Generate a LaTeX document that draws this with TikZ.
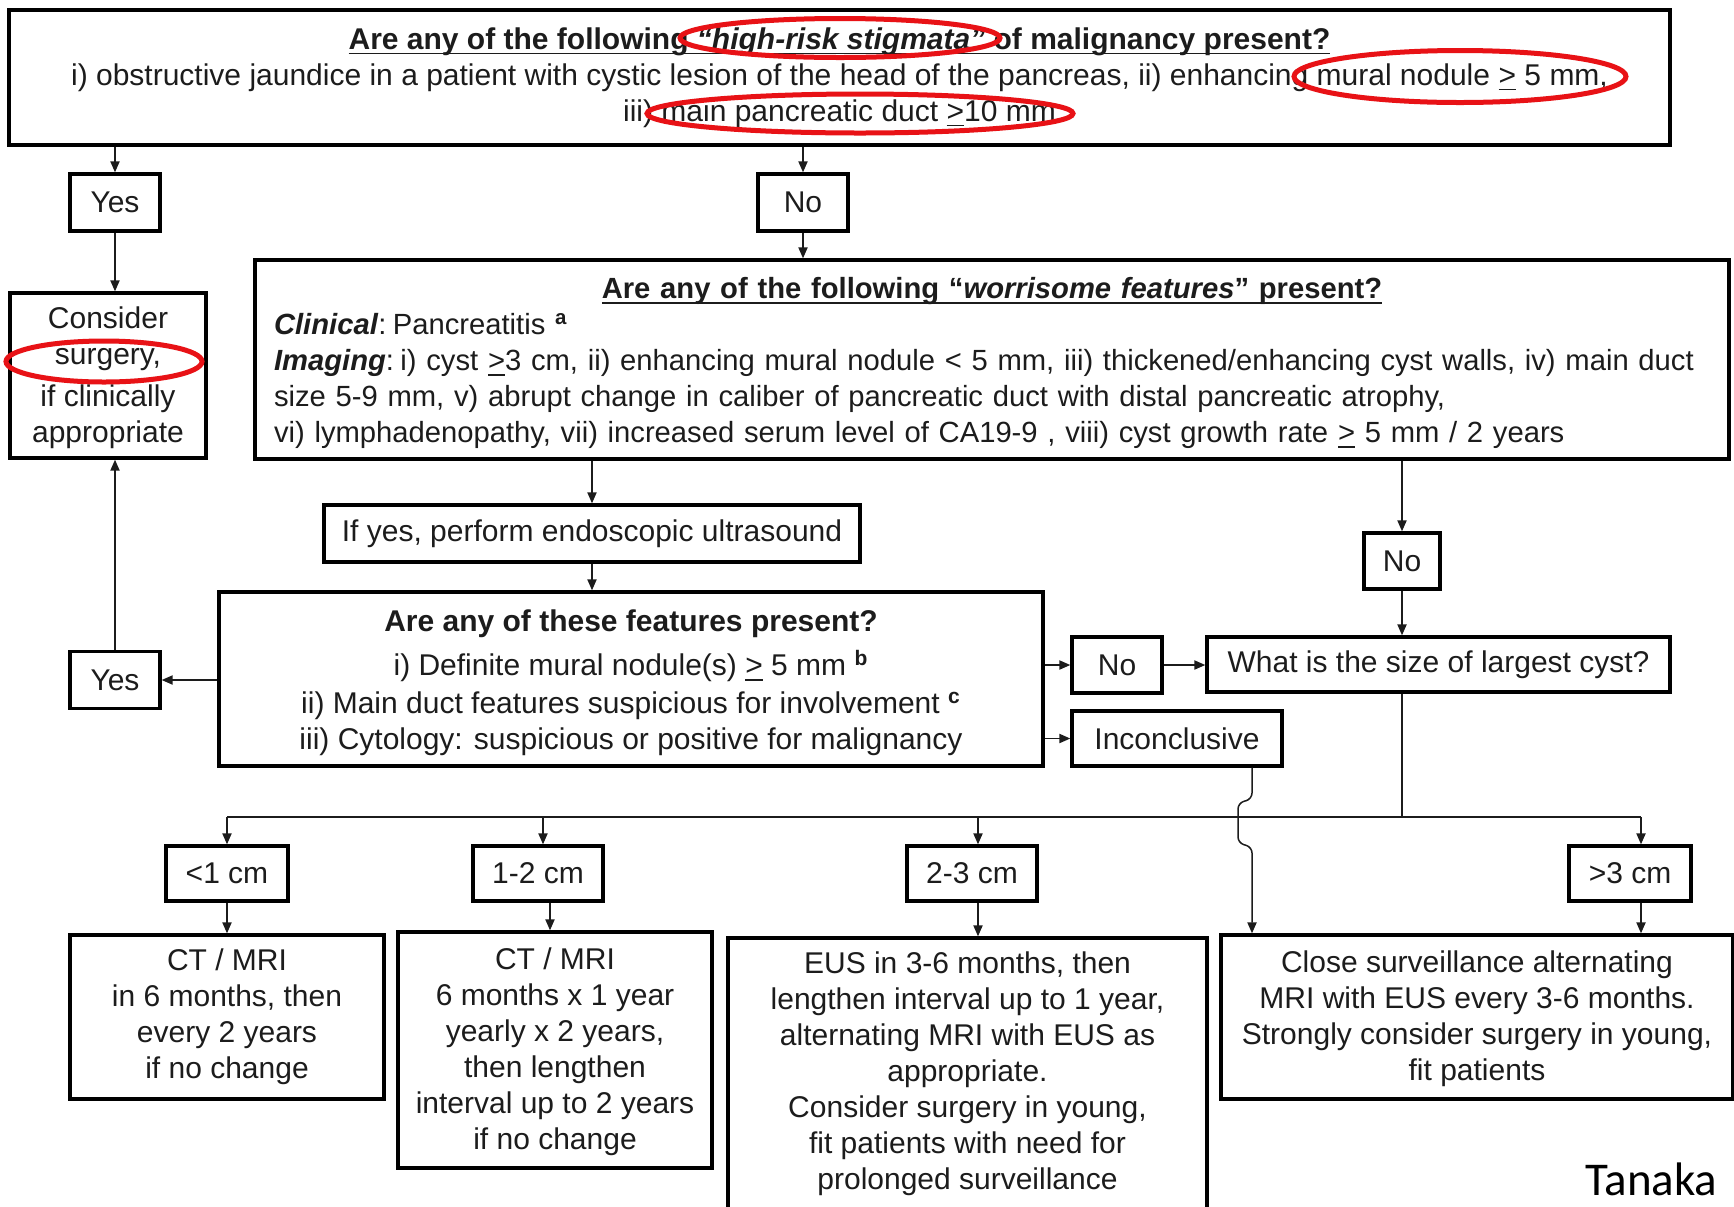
\documentclass[tikz,border=0pt]{standalone}
\usepackage{fontspec}
\setmainfont{Liberation Sans}
\newfontfamily\tanakafont{Carlito}
\usetikzlibrary{arrows.meta}
\definecolor{ringred}{RGB}{232,18,22}
\definecolor{ink}{RGB}{28,28,28}
\newcommand{\myul}[1]{\setbox0\hbox{#1}\rlap{\rule[-2.6pt]{\wd0}{0.9pt}}\box0\relax}
\tikzset{
  box/.style={draw=black, line width=1.7pt, fill=white, inner sep=0pt, align=center,
    font=\fontsize{15pt}{18pt}\selectfont, text=ink},
  arr/.style={line width=0.75pt, draw=ink, -{Triangle[length=5.5pt,width=4.6pt]}},
  ln/.style={line width=0.75pt, draw=ink},
  ring/.style={draw=ringred, line width=2.5pt}
}
\begin{document}
\begin{tikzpicture}[x=0.5pt,y=-0.5pt]
\useasboundingbox[fill=white] (0,0) rectangle (1734,1206);

% ---- boxes ----
\node[box, minimum width=830.5pt, minimum height=67.5pt] (hr) at (839.5,77.5)
 {\textbf{\myul{Are any of the following \textit{“high-risk stigmata”} of malignancy present?}}\\
  i) obstructive jaundice in a patient with cystic lesion of the head of the pancreas, ii) enhancing mural nodule \myul{>} 5 mm,\\
  iii) main pancreatic duct \myul{>}10 mm};

\node[box, minimum width=45pt, minimum height=28.5pt] (yes1) at (115,202.5) {Yes};
\node[box, minimum width=45pt, minimum height=28.5pt] (no1) at (803,202.5) {No};

\node[box, minimum width=98pt, minimum height=82.5pt] (consider) at (108,375.5)
 {\rule{0pt}{13pt}Consider\\surgery,\\[3pt]if clinically\\appropriate};

\node[box, minimum width=737pt, minimum height=99.5pt, text width=718pt, align=left,
      font=\fontsize{14.6pt}{18pt}\selectfont] (worry) at (992,359.5)
 {\makebox[\linewidth][c]{\rule{0pt}{14pt}\textbf{\myul{Are any of the following “\textit{worrisome features}” present?}}}\\
  \textbf{\textit{Clinical}}:\hspace{3.2pt}Pancreatitis \textsuperscript{\textbf{a}}\\
  \textbf{\textit{Imaging}}:\hspace{3.2pt}i) cyst \myul{>}3 cm, ii) enhancing mural nodule < 5 mm, iii) thickened/enhancing cyst walls, iv) main duct\\
  size 5-9 mm, v) abrupt change in caliber of pancreatic duct with distal pancreatic atrophy,\\
  vi) lymphadenopathy, vii) increased serum level of CA19-9 , viii) cyst growth rate \myul{>} 5 mm / 2 years};

\node[box, minimum width=268pt, minimum height=28.5pt] (eus) at (592,533.5) {If yes, perform endoscopic ultrasound};

\node[box, minimum width=412pt, minimum height=87pt] (feat) at (631,679)
 {\rule{0pt}{15pt}\textbf{Are any of these features present?}\\[4pt]
  i) Definite mural nodule(s) \myul{>} 5 mm \textsuperscript{\textbf{b}}\\[1pt]
  ii) Main duct features suspicious for involvement \textsuperscript{\textbf{c}}\\
  iii) Cytology: suspicious or positive for malignancy};

\node[box, minimum width=45pt, minimum height=28.5pt] (yes2) at (115,680) {Yes};
\node[box, minimum width=45pt, minimum height=28pt] (no2) at (1117,665) {No};
\node[box, minimum width=105pt, minimum height=27.5pt] (inc) at (1177,738.5) {Inconclusive};
\node[box, minimum width=38pt, minimum height=28pt] (no3) at (1402,561) {No};
\node[box, minimum width=231.5pt, minimum height=27.5pt] (what) at (1438.5,664.5) {What is the size of largest cyst?};

\node[box, minimum width=61pt, minimum height=27.5pt] (s1) at (227,873.5) {<1 cm};
\node[box, minimum width=65pt, minimum height=27.5pt] (s2) at (538,873.5) {1-2 cm};
\node[box, minimum width=65pt, minimum height=27.5pt] (s3) at (972,873.5) {2-3 cm};
\node[box, minimum width=61pt, minimum height=27.5pt] (s4) at (1630,873.5) {>3 cm};

\node[box, minimum width=157pt, minimum height=82pt] (b1) at (227,1017)
 {CT / MRI\\in 6 months, then\\every 2 years\\if no change};
\node[box, minimum width=157pt, minimum height=118pt] (b2) at (555,1050)
 {\rule{0pt}{13pt}CT / MRI\\6 months x 1 year\\yearly x 2 years,\\then lengthen\\interval up to 2 years\\if no change};
\node[box, minimum width=239.5pt, minimum height=136pt] (b3) at (967.5,1074)
 {EUS in 3-6 months, then\\lengthen interval up to 1 year,\\alternating MRI with EUS as\\appropriate.\\Consider surgery in young,\\fit patients with need for\\prolonged surveillance};
\node[box, minimum width=256pt, minimum height=82pt] (b4) at (1477,1017)
 {\rule{0pt}{13pt}Close surveillance alternating\\MRI with EUS every 3-6 months.\\Strongly consider surgery in young,\\fit patients};

\node[font=\tanakafont\fontsize{23.5pt}{28pt}\selectfont, anchor=base west, inner sep=0pt] (tanaka) at (1585,1195) {Tanaka};

% ---- connectors ----
\draw[arr] (hr.south -| yes1) -- (yes1.north);
\draw[arr] (hr.south -| no1) -- (no1.north);
\draw[arr] (yes1.south) -- (yes1.south |- consider.north);
\draw[arr] (no1.south) -- (no1.south |- worry.north);
\draw[arr] (worry.south -| eus) -- (eus.north);
\draw[arr] (eus.south) -- (eus.south |- feat.north);
\draw[arr] (feat.west |- yes2) -- (yes2.east);
\draw[arr] (yes2.north) -- (yes2.north |- consider.south);
\draw[arr] (feat.east |- no2) -- (no2.west);
\draw[arr] (feat.east |- inc) -- (inc.west);
\draw[arr] (no2.east) -- (what.west |- no2);
\draw[arr] (worry.south -| no3) -- (no3.north);
\draw[arr] (no3.south) -- (no3.south |- what.north);

\coordinate (busL) at (227,817);
\coordinate (busR) at (1641,817);
\coordinate (bx2) at (543,817);
\coordinate (bx3) at (978,817);
\coordinate (dx2) at (550,817);
\draw[ln] (what.south -| no3) -- (busL -| no3);
\draw[ln] (busL) -- (busR);
\draw[arr] (busL) -- (s1.north);
\draw[arr] (bx2) -- (bx2 |- s2.north);
\draw[arr] (bx3) -- (bx3 |- s3.north);
\draw[arr] (busR) -- (busR |- s4.north);

\draw[arr] (s1.south) -- (b1.north);
\draw[arr] (s2.south -| dx2) -- (b2.north -| dx2);
\draw[arr] (s3.south -| bx3) -- (b3.north -| bx3);
\draw[arr] (s4.south -| busR) -- (b4.north -| busR);

\coordinate (j1) at (1252,799);
\coordinate (j2) at (1238,803);
\coordinate (j3) at (1238,843);
\coordinate (j4) at (1252,847);
\draw[arr, rounded corners=3pt] (inc.south -| j1) -- (j1) -- (j2) -- (j3) -- (j4) -- (b4.north -| j4);

% ---- red highlight rings ----
\draw[ring] (840,38) ellipse [x radius=80pt, y radius=9.75pt];
\draw[ring] (1460,76.5) ellipse [x radius=83pt, y radius=13pt];
\draw[ring] (860,113.5) ellipse [x radius=106.5pt, y radius=9.75pt];
\draw[ring] (104,361.5) ellipse [x radius=49pt, y radius=10.25pt];
\end{tikzpicture}
\end{document}
